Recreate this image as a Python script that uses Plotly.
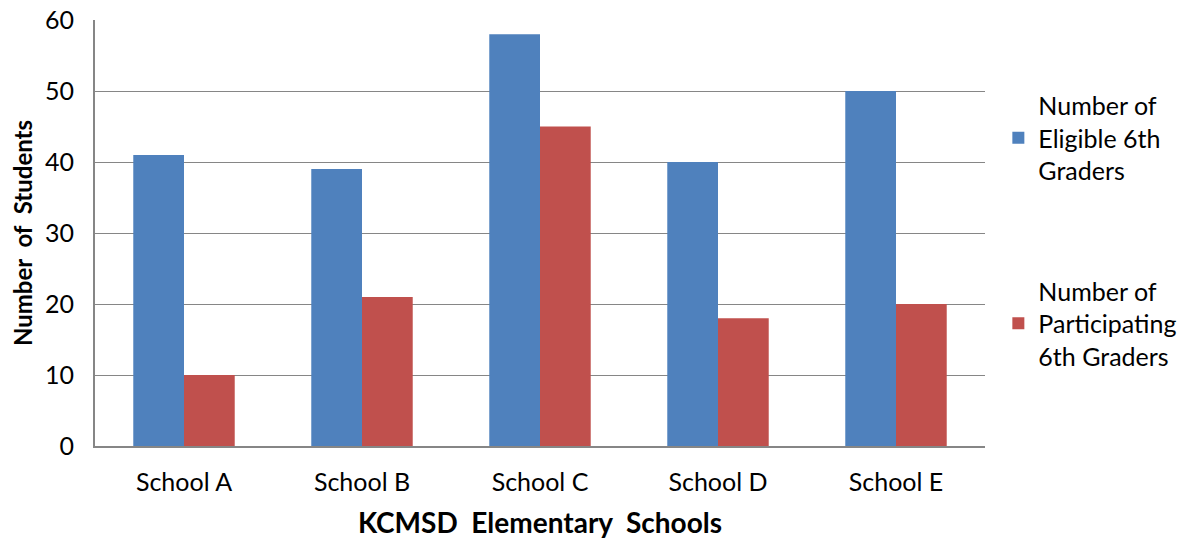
import plotly.graph_objects as go

schools = ["School A", "School B", "School C", "School D", "School E"]
eligible = [41, 39, 58, 40, 50]
participating = [10, 21, 45, 18, 20]
y_ticks = [0, 10, 20, 30, 40, 50, 60]

FONT = "Lato, Open Sans, sans-serif"

fig = go.Figure()
fig.add_trace(go.Bar(x=schools, y=eligible, name="Number of<br>Eligible 6th<br>Graders",
                     marker=dict(color="#4F81BD", line=dict(width=0)), legendgroup="a"))
fig.add_trace(go.Bar(x=schools, y=participating, name="Number of<br>Participating<br>6th Graders",
                     marker=dict(color="#C0504D", line=dict(width=0)), legendgroup="b"))

fig.update_layout(
    width=1186, height=542,
    margin=dict(l=95, r=201, t=20, b=96, autoexpand=False),
    paper_bgcolor="white", plot_bgcolor="white",
    barmode="group", bargap=0.43, bargroupgap=0,
    font=dict(family=FONT, size=25, color="black"),
    showlegend=True,
    legend=dict(x=1.015, y=0.853, xanchor="left", yanchor="top",
                font=dict(size=25, family=FONT), tracegroupgap=85,
                itemsizing="constant"),
    xaxis=dict(showline=True, linecolor="#868686", linewidth=2, automargin=False,
               tickfont=dict(size=25), ticks="", ticklabelstandoff=13,
               title=dict(text="KCMSD\u00a0\u00a0Elementary\u00a0\u00a0Schools",
                          font=dict(size=28, family=FONT, weight="bold"), standoff=18)),
    yaxis=dict(range=[0, 60], tickvals=y_ticks, showline=True, linecolor="#868686", linewidth=2,
               automargin=False, ticklabelstandoff=14,
               gridcolor="#868686", gridwidth=1, ticks="", tickfont=dict(size=25),
               zeroline=False,
               title=dict(text="Number\u00a0\u00a0of\u00a0\u00a0Students",
                          font=dict(size=24, family=FONT, weight="bold"), standoff=6)),
)

fig.write_html("out.html")
